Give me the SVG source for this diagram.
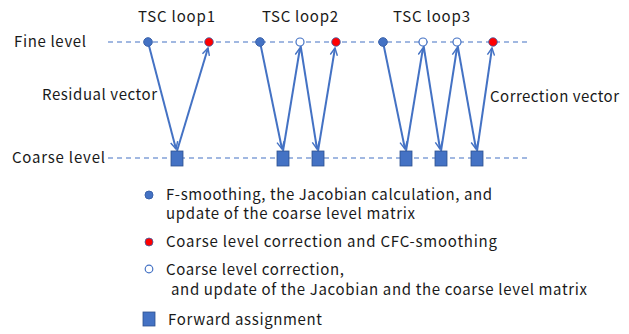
<svg xmlns="http://www.w3.org/2000/svg" width="629" height="334" viewBox="0 0 629 334">
<style>
text{font-family:"Noto Sans CJK JP","Noto Sans",sans-serif;font-size:15px;fill:#1a1a1a}
.lvl{stroke:#4472C4;stroke-width:1.2;stroke-dasharray:5 4;fill:none}
.arr{stroke:#4472C4;stroke-width:2;fill:none;marker-end:url(#ah)}
.fb{fill:#4472C4;stroke:#3A62AA;stroke-width:1}
.fr{fill:#FF0000;stroke:#3A62AA;stroke-width:0.8}
.fw{fill:#fff;stroke:#4472C4;stroke-width:1.2}
.sq{fill:#4472C4;stroke:#2F528F;stroke-width:0.8}
</style>
<defs>
<marker id="ah" viewBox="0 0 10 10" refX="9" refY="5" markerWidth="4.5" markerHeight="4.5" orient="auto" markerUnits="strokeWidth">
<path d="M1,1 L9,5 L1,9" fill="none" stroke="#4472C4" stroke-width="1.6"/>
</marker>
</defs>
<g id="labels">
<text x="138" y="22" textLength="77">TSC loop1</text>
<text x="262" y="22" textLength="76">TSC loop2</text>
<text x="393" y="22" textLength="77">TSC loop3</text>
<text x="14" y="47" textLength="72">Fine level</text>
<text x="12" y="163" textLength="93">Coarse level</text>
<text x="42" y="100" textLength="115">Residual vector</text>
<text x="490" y="102" textLength="129">Correction vector</text>
</g>
<g id="levels">
<line class="lvl" x1="108" y1="42" x2="527" y2="42"/>
<line class="lvl" x1="108" y1="158" x2="527" y2="158"/>
</g>
<g id="connectors">
<line class="arr" x1="148" y1="42" x2="176" y2="149"/>
<line class="arr" x1="177" y1="151" x2="208" y2="48"/>
<line class="arr" x1="260" y1="42" x2="282" y2="149"/>
<line class="arr" x1="283" y1="151" x2="300" y2="48"/>
<line class="arr" x1="300" y1="42" x2="317" y2="149"/>
<line class="arr" x1="318" y1="151" x2="335" y2="48"/>
<line class="arr" x1="383" y1="42" x2="405" y2="149"/>
<line class="arr" x1="406" y1="151" x2="423" y2="48"/>
<line class="arr" x1="423" y1="42" x2="440" y2="149"/>
<line class="arr" x1="441" y1="151" x2="457" y2="48"/>
<line class="arr" x1="457" y1="42" x2="476" y2="149"/>
<line class="arr" x1="477" y1="151" x2="492" y2="48"/>
</g>
<g id="f1"><circle class="fb" cx="148" cy="42" r="4.3"/></g>
<g id="f2"><circle class="fr" cx="209" cy="42" r="4.3"/></g>
<g id="f3"><circle class="fb" cx="260" cy="42" r="4.3"/></g>
<g id="f4"><circle class="fw" cx="300" cy="42" r="4"/></g>
<g id="f5"><circle class="fr" cx="336" cy="42" r="4.3"/></g>
<g id="f6"><circle class="fb" cx="383" cy="42" r="4.3"/></g>
<g id="f7"><circle class="fw" cx="423" cy="42" r="4"/></g>
<g id="f8"><circle class="fw" cx="457" cy="42" r="4"/></g>
<g id="f9"><circle class="fr" cx="493" cy="42" r="4.3"/></g>
<g id="c1"><rect class="sq" x="171" y="151" width="12" height="15"/></g>
<g id="c2"><rect class="sq" x="277" y="151" width="12" height="15"/></g>
<g id="c3"><rect class="sq" x="312" y="151" width="12" height="15"/></g>
<g id="c4"><rect class="sq" x="400" y="151" width="12" height="15"/></g>
<g id="c5"><rect class="sq" x="435" y="151" width="12" height="15"/></g>
<g id="c6"><rect class="sq" x="471" y="151" width="12" height="15"/></g>
<g id="legend">
<circle class="fb" cx="149" cy="195" r="4"/>
<text x="166" y="200" textLength="326">F-smoothing, the Jacobian calculation, and</text>
<text x="166" y="219" textLength="249">update of the coarse level matrix</text>
<circle class="fr" cx="149" cy="242" r="4"/>
<text x="166" y="247" textLength="331">Coarse level correction and CFC-smoothing</text>
<circle class="fw" cx="149" cy="269" r="3.8"/>
<text x="166" y="275" textLength="178">Coarse level correction,</text>
<text x="171" y="295" textLength="416">and update of the Jacobian and the coarse level matrix</text>
<rect class="sq" x="143" y="312" width="12" height="14"/>
<text x="168" y="325" textLength="154">Forward assignment</text>
</g>
</svg>
